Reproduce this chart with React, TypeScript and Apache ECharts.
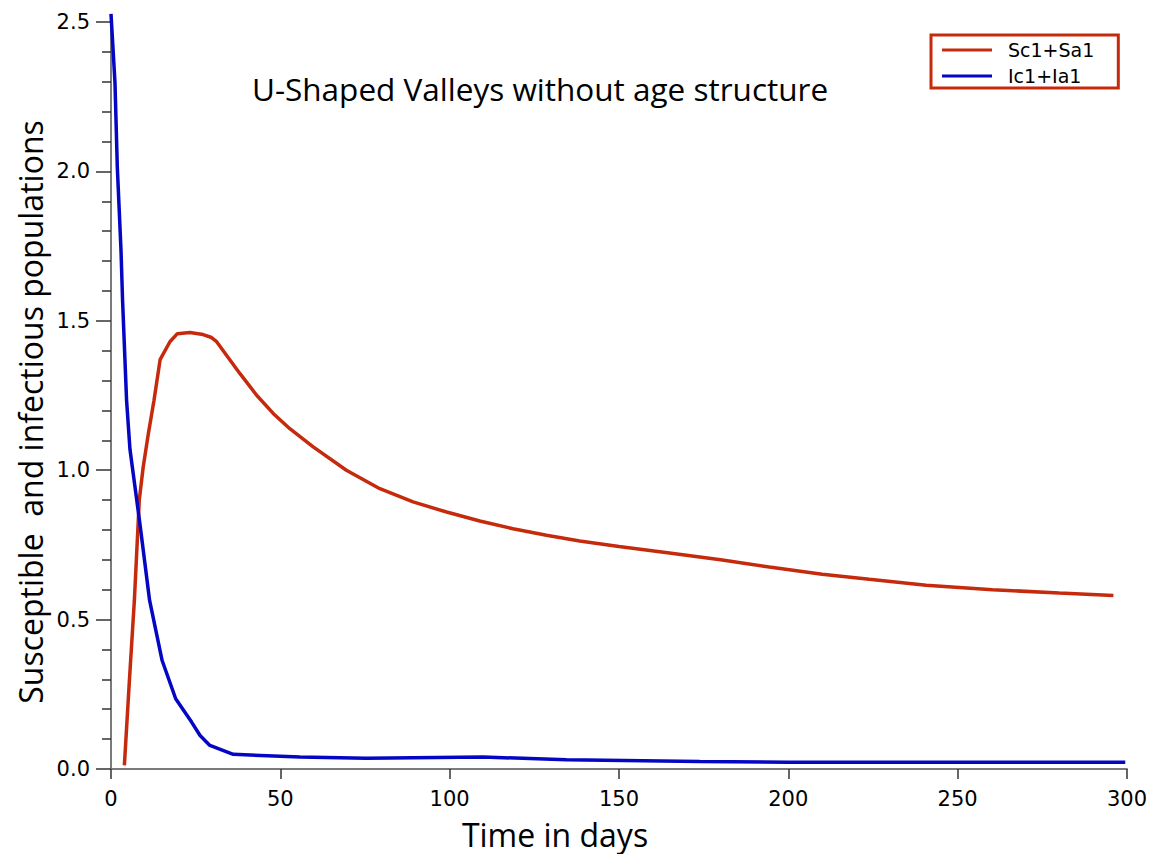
import React, { useEffect, useRef } from "react";
import * as echarts from "echarts";

const redName = "Sc1+Sa1";
const blueName = "Ic1+Ia1";

const redT = [3.95, 5.4, 6.9, 8.35, 9.5, 11, 12.7, 14.5, 17.4, 19.6, 23.3, 27.2, 29.5, 31.2, 34.1, 38.1, 43, 47.9, 52.8, 59.7, 69.5, 79.4, 89.2, 99.1, 108.9, 118.7, 128.6, 138.4, 150, 164.9, 180, 194.4, 210, 223.9, 240.7, 260.3, 280, 296];
const redV = [0.012, 0.29, 0.564, 0.9, 1.01, 1.12, 1.234, 1.37, 1.43, 1.457, 1.461, 1.454, 1.445, 1.43, 1.385, 1.323, 1.251, 1.19, 1.139, 1.078, 1.0, 0.938, 0.894, 0.86, 0.83, 0.804, 0.782, 0.763, 0.745, 0.723, 0.7, 0.676, 0.652, 0.635, 0.615, 0.6, 0.589, 0.581];

const blueT = [0, 1.18, 1.86, 2.95, 3.42, 4.6, 5.6, 7.6, 8.6, 11.4, 15.1, 19.1, 23.8, 26.3, 29.2, 36.1, 55.8, 75.4, 109.9, 134.5, 173.9, 200, 250, 299.5];
const blueV = [2.527, 2.296, 2.015, 1.737, 1.567, 1.234, 1.07, 0.9, 0.815, 0.564, 0.363, 0.235, 0.157, 0.112, 0.079, 0.049, 0.04, 0.036, 0.04, 0.031, 0.025, 0.023, 0.023, 0.023];

const titleText = "U-Shaped Valleys without age structure";
const xName = "Time in days";
const yName = "Susceptible  and infectious populations";

const RED = "#c62a0c";
const BLUE = "#0505c4";

export default function App() {
  const ref = useRef<HTMLDivElement>(null);
  useEffect(() => {
    if (!ref.current) return;
    const chart = echarts.init(ref.current, undefined, { renderer: "svg" });
    const redData = redT.map((t, i) => [t, redV[i]]);
    const blueData = blueT.map((t, i) => [t, blueV[i]]);
    chart.setOption({
      animation: false,
      backgroundColor: "#ffffff",
      grid: { left: 111, right: 23, top: 22, bottom: 85 },
      xAxis: {
        type: "value",
        min: 0,
        max: 300,
        interval: 50,
        splitLine: { show: false },
        axisLine: { show: true, lineStyle: { color: "#7a7a7a", width: 2 } },
        axisTick: { show: true, length: 10, lineStyle: { color: "#333", width: 1.5 } },
        axisLabel: { fontFamily: "DejaVu Sans", fontSize: 21, color: "#000", margin: 19 },
      },
      yAxis: {
        type: "value",
        min: 0,
        max: 2.5,
        interval: 0.5,
        splitLine: { show: false },
        axisLine: { show: true, lineStyle: { color: "#7a7a7a", width: 2 } },
        axisTick: { show: true, length: 15, lineStyle: { color: "#333", width: 1.5 } },
        minorTick: { show: true, splitNumber: 5, length: 9, lineStyle: { color: "#333", width: 1.5 } },
        axisLabel: {
          fontFamily: "DejaVu Sans",
          fontSize: 21,
          color: "#000",
          margin: 21,
          formatter: (v: number) => v.toFixed(1),
        },
      },
      legend: {
        orient: "vertical",
        left: 931,
        top: 35,
        padding: [5, 24, 2, 11],
        icon: "rect",
        itemWidth: 50,
        itemHeight: 3,
        itemGap: 6,
        borderColor: RED,
        borderWidth: 3,
        borderRadius: 0,
        textStyle: { fontFamily: "DejaVu Sans", fontSize: 19, color: "#000", padding: [0, 0, 0, 11], lineHeight: 20 },
        data: [redName, blueName],
      },
      graphic: [
        {
          type: "text",
          x: 540,
          y: 88,
          style: {
            text: titleText,
            fontFamily: "Open Sans",
            fontSize: 31.5,
            fill: "#000",
            align: "center",
            verticalAlign: "middle",
          },
        },
        {
          type: "text",
          x: 555,
          y: 834,
          style: {
            text: xName,
            fontFamily: "Open Sans",
            fontSize: 32,
            fill: "#000",
            align: "center",
            verticalAlign: "middle",
          },
        },
        {
          type: "text",
          x: 30,
          y: 412,
          rotation: Math.PI / 2,
          style: {
            text: yName,
            fontFamily: "Open Sans",
            fontSize: 32,
            fill: "#000",
            align: "center",
            verticalAlign: "middle",
          },
        },
      ],
      series: [
        {
          name: redName,
          type: "line",
          data: redData,
          symbol: "none",
          clip: false,
          smooth: false,
          lineStyle: { color: RED, width: 3.5 },
          itemStyle: { color: RED },
        },
        {
          name: blueName,
          type: "line",
          data: blueData,
          symbol: "none",
          clip: false,
          smooth: false,
          lineStyle: { color: BLUE, width: 3.5 },
          itemStyle: { color: BLUE },
        },
      ],
    });
    return () => chart.dispose();
  }, []);
  return (
    <div
      ref={ref}
      style={{ position: "fixed", left: 0, top: 0, width: 1150, height: 854, background: "#fff" }}
    />
  );
}
